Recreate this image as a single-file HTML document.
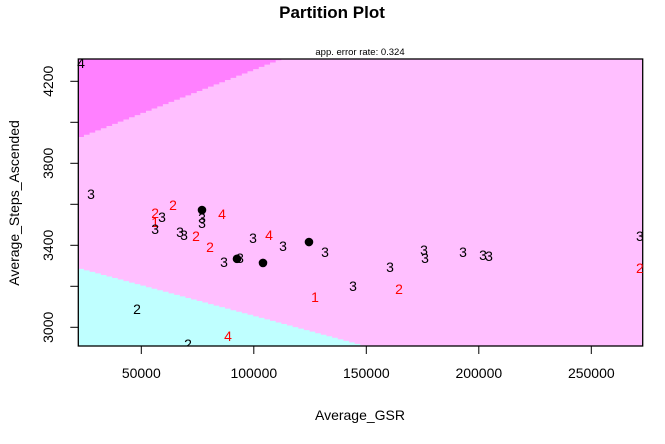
<!DOCTYPE html>
<html><head><meta charset="utf-8"><style>
html,body{margin:0;padding:0;background:#fff}
svg{display:block;font-family:"Liberation Sans",Arial,sans-serif}
</style></head><body>
<svg id="chart" width="665" height="444" viewBox="0 0 665 444" xmlns="http://www.w3.org/2000/svg">
<defs><clipPath id="pc"><rect x="78.3" y="59" width="564.4" height="287"/></clipPath></defs>
<text x="332" y="18" text-anchor="middle" font-size="17" font-weight="bold">Partition Plot</text>
<text x="360" y="55" text-anchor="middle" font-size="9.5">app. error rate: 0.324</text>
<g id="regions" clip-path="url(#pc)"></g>
<g id="axes"></g>
<g id="points" clip-path="url(#pc)"></g>
<g id="points-free"></g>
<text x="360" y="420" text-anchor="middle" font-size="14">Average_GSR</text>
<text transform="translate(19,203) rotate(-90)" text-anchor="middle" font-size="14">Average_Steps_Ascended</text>
</svg>
<script>
// Axis ranges / ticks
const xTicks = [50000, 100000, 150000, 200000, 250000];
const yTicks = [3000, 3200, 3400, 3600, 3800, 4000, 4200];
const yTickLabels = [3000, 3400, 3800, 4200];
// Observation data
const pointX = [23200, 27650, 56130, 59200, 56130, 56130, 64090, 76970, 76970, 76970, 85860, 67200, 68980, 74310, 80530, 99640, 106750, 112970, 124520, 131630, 86750, 92530, 93860, 104080, 144080, 127200, 48100, 88530, 70750, 160560, 164520, 175640, 176080, 192970, 201850, 204520, 271620, 271620];
const pointY = [4289, 3650, 3558, 3538, 3514, 3480, 3597, 3572, 3533, 3509, 3553, 3465, 3450, 3445, 3392, 3436, 3450, 3397, 3416, 3367, 3319, 3334, 3338, 3314, 3201, 3148, 3089, 2958, 2919, 3294, 3187, 3377, 3338, 3367, 3353, 3348, 3445, 3289];
const pointLabel = ['4','3','2','3','1','3','2','•','3','3','4','3','3','2','2','3','4','3','•','3','3','•','3','•','3','1','2','4','2','3','2','3','3','3','3','3','3','2'];
const pointWrong = [0,0,1,0,1,0,1,0,0,0,1,0,0,1,1,0,1,0,0,0,0,0,0,0,0,1,0,1,0,0,1,0,0,0,0,0,0,1];
// Region boundaries (data coords): [x0,y0,x1,y1]
const upperBoundary = [22000, 3923, 112530, 4309];
const lowerBoundary = [22000, 3289, 149400, 2909];

const X0=141.3, XS=0.00225, Y0=81.3, YS=0.205;
function sx(v){return X0+(v-50000)*XS;}
function sy(v){return Y0-(v-4200)*YS;}
const L=78.3,R=642.7,T=59,B=346;
const NS='http://www.w3.org/2000/svg';
function mk(tag,attrs,parent){const e=document.createElementNS(NS,tag);for(const k in attrs)e.setAttribute(k,attrs[k]);parent.appendChild(e);return e;}
const reg=document.getElementById('regions');
const bg=mk('rect',{x:L,y:T,width:R-L,height:B-T,fill:'#FFBFFF'},reg);


function stair(b,fillTop,fill,name){
  const x0=sx(b[0]),y0=sy(b[1]),x1=sx(b[2]),y1=sy(b[3]);
  const step=5.64; let d='';
  const n=Math.ceil((x1-x0)/step);
  const pts=[];
  for(let i=0;i<n;i++){const xa=x0+i*step,xb=Math.min(x0+(i+1)*step,x1);const yy=y0+(y1-y0)*((xa+xb)/2-x0)/(x1-x0);pts.push([xa,yy],[xb,yy]);}
  if(fillTop){d='M'+L+','+T+' L'+L+','+pts[0][1]+' '+pts.map(p=>p.join(',')).join(' ')+' L'+x1+','+T+' Z';}
  else{d='M'+L+','+B+' L'+L+','+pts[0][1]+' '+pts.map(p=>p.join(',')).join(' ')+' L'+x1+','+B+' Z';}
  const p=mk('path',{d:d,fill:fill},reg);
  
  
}
stair(upperBoundary,true,'#FF80FF','class-4-region');
stair(lowerBoundary,false,'#BFFFFF','class-2-region');
const pg=document.getElementById('points');
const pf=document.getElementById('points-free');
for(let i=0;i<pointX.length;i++){
  const x=sx(pointX[i]),y=sy(pointY[i]);
  const parent=(x<L+5)?pf:pg;
  if(pointLabel[i]==='•'){
    const c=mk('circle',{cx:x,cy:y,r:4.3,fill:'#000'},parent);
    
    
  } else {
    const t=mk('text',{x:x,y:y+5,'text-anchor':'middle','font-size':'14',fill:pointWrong[i]?'#FF0000':'#000'},parent);
    t.textContent=pointLabel[i];
    
    
  }
}
const ax=document.getElementById('axes');
const fr=mk('rect',{x:L,y:T,width:R-L,height:B-T,fill:'none',stroke:'#000','stroke-width':1.3},ax);


xTicks.forEach(v=>{
  const x=sx(v);
  const l=mk('line',{x1:x,x2:x,y1:B,y2:B+8,stroke:'#000','stroke-width':1},ax);
  
  
  const t=mk('text',{x:x,y:B+32,'text-anchor':'middle','font-size':'14'},ax);
  t.textContent=v;
  
  
});
yTicks.forEach(v=>{
  const y=sy(v);
  const l=mk('line',{x1:L-8,x2:L,y1:y,y2:y,stroke:'#000','stroke-width':1},ax);
  
  
});
yTickLabels.forEach(v=>{
  const y=sy(v);
  const t=mk('text',{transform:'translate(53,'+y+') rotate(-90)','text-anchor':'middle','font-size':'14'},ax);
  t.textContent=v;
  
  
});
</script>
</body></html>
